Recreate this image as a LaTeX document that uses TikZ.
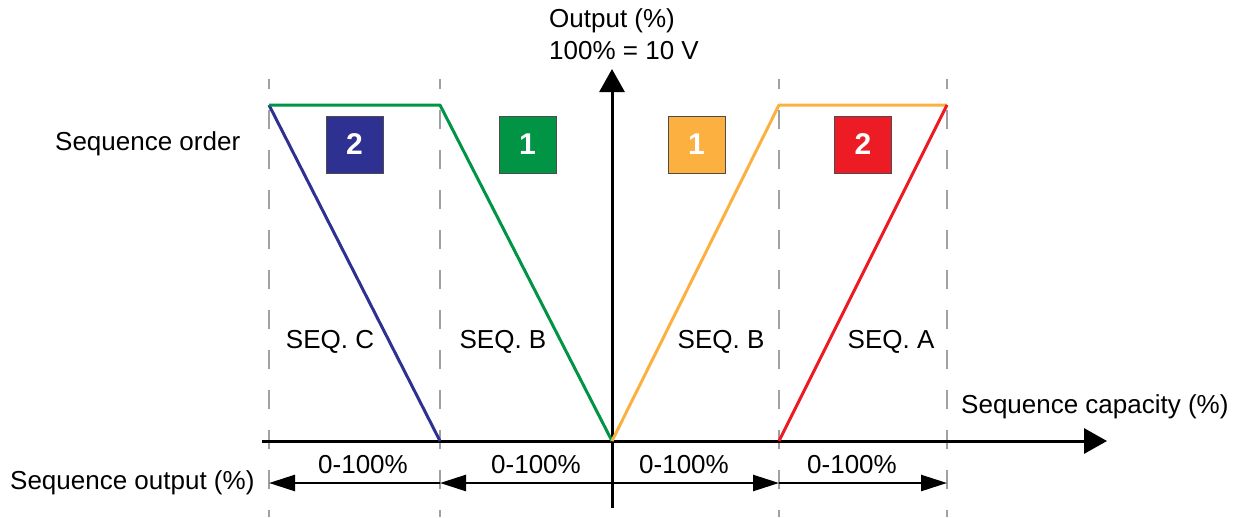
\documentclass[tikz,border=0pt]{standalone}
\usepackage{fontspec}
\setmainfont{Liberation Sans}
\usetikzlibrary{arrows.meta}
\definecolor{seqblue}{HTML}{2E3192}
\definecolor{seqgreen}{HTML}{009444}
\definecolor{seqorange}{HTML}{FBB040}
\definecolor{seqred}{HTML}{ED1C24}
\definecolor{guidegray}{HTML}{A0A0A0}
\tikzset{
  lbl/.style={font=\fontsize{26}{30}\selectfont, inner sep=0pt},
  numbox/.style={draw=black!70, line width=1pt, minimum width=57pt, minimum height=57pt, inner sep=0pt, text=white, font=\fontsize{30}{32}\selectfont\bfseries},
  guide/.style={draw=guidegray, line width=1.5pt, dash pattern=on 19pt off 21pt, dash phase=9pt},
  axis/.style={draw=black, line width=3pt, -{Triangle[length=23pt,width=25pt]}},
  dim/.style={draw=black, line width=2.5pt, -{Triangle[length=26pt,width=16pt]}},
  curve/.style={line width=3pt, line join=round},
}
\begin{document}
\begin{tikzpicture}[x=1pt,y=-1pt]
\useasboundingbox (0,0) rectangle (1234,517);
% guide coordinates
\foreach \n/\x in {a/269,b/440,d/779,e/947}{
  \coordinate (g\n t) at (\x,79);
  \coordinate (g\n b) at (\x,517);
}
\foreach \n in {a,b,d,e}{ \draw[guide] (g\n t) -- (g\n b); }
% axes
\coordinate (hx0) at (262,441);
\coordinate (hx1) at (1107,441);
\coordinate (vy0) at (612,508);
\coordinate (vy1) at (612,69);
\draw[axis] (hx0) -- (hx1);
\draw[axis] (vy0) -- (vy1);
% curve points
\coordinate (pa) at (269,105);
\coordinate (pb) at (440,105);
\coordinate (pc) at (612,441);
\coordinate (pd) at (779,105);
\coordinate (pe) at (947,105);
\coordinate (qb) at (440,441);
\coordinate (qd) at (779,441);
\draw[curve, seqblue] (pa) -- (qb);
\draw[curve, seqgreen] (pa) -- (pb) -- (pc);
\draw[curve, seqorange] (pc) -- (pd) -- (pe);
\draw[curve, seqred] (qd) -- (pe);
% number boxes
\node[numbox, fill=seqblue] (n1) at (354.5,144.5) {2};
\node[numbox, fill=seqgreen] (n2) at (527.5,144.5) {1};
\node[numbox, fill=seqorange] (n3) at (696.5,144.5) {1};
\node[numbox, fill=seqred] (n4) at (863,144.5) {2};
% labels
\node[lbl, anchor=base west] (tout) at (549,27) {Output (\%)};
\node[lbl, anchor=base west] (tv) at (549,59) {100\% = 10 V};
\node[lbl, anchor=base west] (tord) at (55,150) {Sequence order};
\node[lbl, anchor=base west] (tcap) at (961,413) {Sequence capacity (\%)};
\node[lbl, anchor=base west] (tso) at (10,489) {Sequence output (\%)};
\node[lbl, anchor=base] (sc) at (330,348) {SEQ. C};
\node[lbl, anchor=base] (sb1) at (503,348) {SEQ. B};
\node[lbl, anchor=base] (sb2) at (721,348) {SEQ. B};
\node[lbl, anchor=base] (sa) at (891,348) {SEQ. A};
% dimension arrows
\coordinate (da) at (269,483);
\coordinate (db) at (440,483);
\coordinate (dc) at (612,483);
\coordinate (dd) at (779,483);
\coordinate (de) at (947,483);
\draw[dim] (db) -- (da);
\draw[dim] (dc) -- (db);
\draw[dim] (dc) -- (dd);
\draw[dim] (dd) -- (de);
\node[lbl, anchor=base] (r1) at (363,473) {0-100\%};
\node[lbl, anchor=base] (r2) at (536,473) {0-100\%};
\node[lbl, anchor=base] (r3) at (684,473) {0-100\%};
\node[lbl, anchor=base] (r4) at (852,473) {0-100\%};
\end{tikzpicture}
\end{document}
